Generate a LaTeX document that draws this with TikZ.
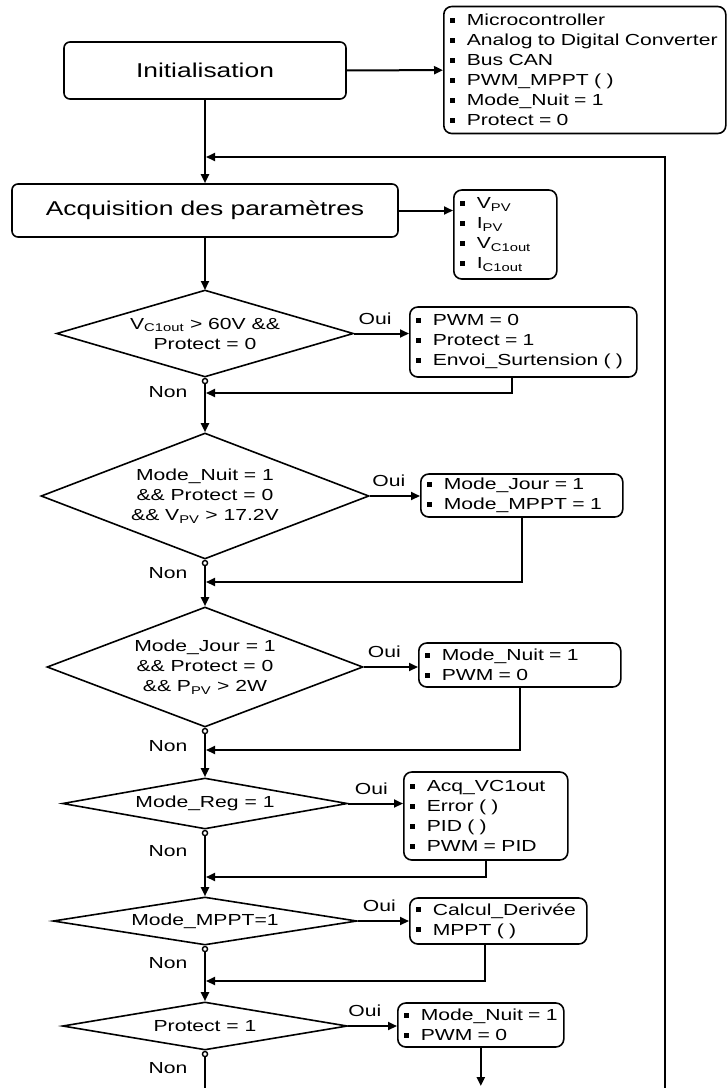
\documentclass[tikz,border=0pt]{standalone}
\usepackage{fontspec}
\setmainfont{Liberation Sans}[FakeStretch=1.32]
\usepackage{tikz}
\usetikzlibrary{shapes.geometric,arrows.meta,positioning}
\newcommand{\itm}[1]{\mbox{\rule[3pt]{5pt}{5pt}\kern12pt#1}}
\tikzset{
  procbox/.style={draw,rounded corners=6pt,line width=1.6pt,align=center,font=\fontsize{20}{24}\selectfont},
  listbox/.style={draw,rounded corners=8pt,line width=1.6pt,inner xsep=6pt,inner ysep=2pt,align=left,text width=#1,font=\fontsize{16}{20}\selectfont},
  decision/.style={diamond,draw,line width=1.6pt,inner sep=0pt,align=center,font=\fontsize{16}{20}\selectfont},
}

\begin{document}
\begin{tikzpicture}[x=1pt,y=-1pt,
    arrow/.style={-{Triangle[length=9pt,width=8pt]},line width=2pt},
    flow/.style={{Circle[open,length=6.5pt,line width=1.4pt]}-{Triangle[length=9pt,width=8pt]},line width=2pt},
    lbl/.style={font=\fontsize{16}{19}\selectfont},
  ]
    \useasboundingbox (0,0) rectangle (728,1088);

    %────────── INITIALISATION ──────────
    \node[procbox,minimum width=282pt,minimum height=57pt] (init) at (205,70.5) {Initialisation};
    \node[listbox=270pt,minimum height=127pt,anchor=west] (setup) at (443,70) {\itm{Microcontroller}\\\itm{Analog to Digital Converter}\\\itm{Bus CAN}\\\itm{PWM\_MPPT ( )}\\\itm{Mode\_Nuit = 1}\\\itm{Protect = 0}};
    \draw[arrow] (init) -- (setup);

    %────────── ACQUISITION ─────────────
    \node[procbox,minimum width=386pt,minimum height=53pt] (acq) at (205,210.5) {Acquisition des paramètres};
    \node[listbox=91pt,minimum height=89pt,anchor=west] (meas) at (453,234.5) {\itm{V\textsubscript{PV}}\\\itm{I\textsubscript{PV}}\\\itm{V\textsubscript{C1out}}\\\itm{I\textsubscript{C1out}}};
    \draw[arrow] (acq.east) -- (acq.east -| meas.west);
    \draw[arrow] (init) -- (acq);
    \draw[arrow] (acq) -- (acq |- 0,290);

    %────────── SURTENSION ──────────────
    \node[decision,minimum width=297pt,minimum height=87pt,aspect=3.4] (ovp) at (205,333.5) {V\textsubscript{C1out} > 60V \&\&\\Protect = 0};
    \node[listbox=215pt,minimum height=70pt,anchor=west] (ovpact) at (409,342) {\itm{PWM = 0}\\\itm{Protect = 1}\\\itm{Envoi\_Surtension ( )}};
    \draw[arrow] (ovp.east) -- node[lbl,above=5pt,pos=0.38] (oui1) {Oui} (ovp.east -| ovpact.west);
    \node[lbl,anchor=east] (non1) at ([xshift=-14pt,yshift=-14pt]ovp.south) {Non};
    \coordinate (j1) at (206,393);
    \draw[arrow] ([xshift=-11pt]ovpact.south) |- (j1);

    %────────── MODE NUIT ───────────────
    \node[decision,minimum width=328pt,minimum height=126pt,aspect=2.6] (night) at (205,496) {Mode\_Nuit = 1\\\&\& Protect = 0\\\&\& V\textsubscript{PV} > 17.2V};
    \node[listbox=190pt,minimum height=43pt,anchor=west] (dayset) at (420,495.5) {\itm{Mode\_Jour = 1}\\\itm{Mode\_MPPT = 1}};
    \draw[flow] (ovp.south) -- (night.north);
    \draw[arrow] (night.east) -- node[lbl,above=5pt,pos=0.38] (oui2) {Oui} (night.east -| dayset.west);
    \node[lbl,anchor=east] (non2) at ([xshift=-14pt,yshift=-13pt]night.south) {Non};
    \coordinate (j2) at (206,582);
    \draw[arrow] (dayset.south) |- (j2);

    %────────── MODE JOUR ───────────────
    \node[decision,minimum width=316pt,minimum height=120pt,aspect=2.63] (day) at (205,667) {Mode\_Jour = 1\\\&\& Protect = 0\\\&\& P\textsubscript{PV} > 2W};
    \node[listbox=190pt,minimum height=44pt,anchor=west] (nightset) at (418,665) {\itm{Mode\_Nuit = 1}\\\itm{PWM = 0}};
    \draw[flow] (night.south) -- (day.north);
    \draw[arrow] (day.east) -- node[lbl,above=5pt,pos=0.38] (oui3) {Oui} (day.east -| nightset.west);
    \node[lbl,anchor=east] (non3) at ([xshift=-14pt,yshift=-18pt]day.south) {Non};
    \coordinate (j3) at (206,750);
    \draw[arrow] (nightset.south) |- (j3);

    %────────── REGULATION ──────────────
    \node[decision,minimum width=285pt,minimum height=51pt,aspect=5.6] (reg) at (205,803.5) {Mode\_Reg = 1};
    \node[listbox=152pt,minimum height=88pt,anchor=west] (regact) at (403,816) {\itm{Acq\_VC1out}\\\itm{Error ( )}\\\itm{PID ( )}\\\itm{PWM = PID}};
    \draw[flow] (day.south) -- (reg.north);
    \draw[arrow] (reg.east) -- node[lbl,above=5pt,pos=0.42] (oui4) {Oui} (reg.east -| regact.west);
    \node[lbl,anchor=east] (non4) at ([xshift=-14pt,yshift=-21pt]reg.south) {Non};
    \coordinate (j4) at (206,877);
    \draw[arrow] (regact.south) |- (j4);

    %────────── MPPT ────────────────────
    \node[decision,minimum width=304pt,minimum height=48pt,aspect=6.3] (mppt) at (205,921) {Mode\_MPPT=1};
    \node[listbox=165pt,minimum height=46pt,anchor=west] (mpptact) at (409,921) {\itm{Calcul\_Derivée}\\\itm{MPPT ( )}};
    \draw[flow] (reg.south) -- (mppt.north);
    \draw[arrow] (mppt.east) -- node[lbl,above=5pt,pos=0.42] (oui5) {Oui} (mppt.east -| mpptact.west);
    \node[lbl,anchor=east] (non5) at ([xshift=-14pt,yshift=-17pt]mppt.south) {Non};
    \coordinate (j5) at (206,981);
    \draw[arrow] ([xshift=-13pt]mpptact.south) |- (j5);

    %────────── PROTECTION ──────────────
    \node[decision,minimum width=285pt,minimum height=48pt,aspect=5.9] (prot) at (205,1026) {Protect = 1};
    \node[listbox=154pt,minimum height=44pt,anchor=west] (protact) at (397,1025) {\itm{Mode\_Nuit = 1}\\\itm{PWM = 0}};
    \draw[flow] (mppt.south) -- (prot.north);
    \draw[arrow] (prot.east) -- node[lbl,above=5pt,pos=0.34] (oui6) {Oui} (prot.east -| protact.west);
    \node[lbl,anchor=east] (non6) at ([xshift=-14pt,yshift=-17pt]prot.south) {Non};

    %────────── LOOP BACK ───────────────
    \coordinate (endA) at (205,1088);
    \coordinate (endB) at (protact.south |- endA);
    \coordinate (loopst) at (665,1088);
    \coordinate (back) at (206,157);
    \draw[{Circle[open,length=6.5pt,line width=1.4pt]}-,line width=2pt] (prot.south) -- (endA);
    \draw[arrow] (protact.south) -- ([yshift=2pt]endB);
    \draw[arrow] (loopst) |- (back);
\end{tikzpicture}
\end{document}
